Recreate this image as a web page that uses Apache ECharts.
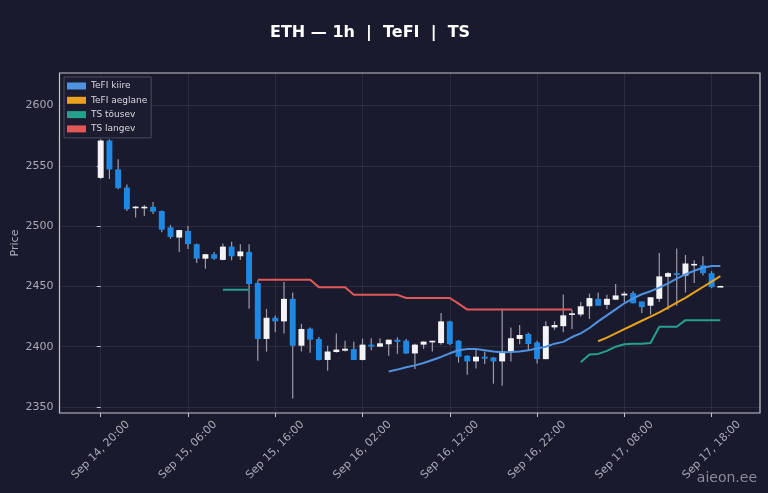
<!DOCTYPE html>
<html><head><meta charset="utf-8">
<script src="https://cdn.jsdelivr.net/npm/echarts@6/dist/echarts.min.js"></script>
<style>html,body{margin:0;padding:0;background:#1a1a2e;}#c{width:768px;height:493px;}</style>
</head><body><div id="c"></div>
<script>
// x = hours since Sep 14, 20:00
const xTickHours = [0,10,20,30,40,50,60,70];
const xTickLabels = ['Sep 14, 20:00','Sep 15, 06:00','Sep 15, 16:00','Sep 16, 02:00','Sep 16, 12:00','Sep 16, 22:00','Sep 17, 08:00','Sep 17, 18:00'];
const yTicks = [2350,2400,2450,2500,2550,2600];

const opens = [2540,2571,2547,2532,2515,2515,2516,2512.5,2499,2490.5,2496,2485,2473,2476.7,2472,2483,2475,2478.6,2452.8,2406.4,2424,2421,2439.7,2400.8,2415,2406.4,2389,2395.6,2396.7,2398,2389,2401.7,2400,2402,2405.8,2405,2394.4,2401.7,2403.9,2403,2421,2405,2392.5,2387.8,2391.7,2391,2387.8,2396,2406.4,2410.6,2403.6,2389.7,2416,2417,2426.5,2426.7,2433.5,2439.7,2434.7,2439,2442.5,2444.4,2437.5,2434,2439.7,2458,2461,2459,2467.5,2467.5,2461,2449.4];
const closes = [2571,2547,2531.5,2514,2516,2515.8,2512,2497,2491,2496.7,2485,2473,2476.7,2473,2483,2475,2479,2452,2406.4,2424,2421,2439.7,2400.8,2414.7,2405.8,2389,2396,2397.6,2398.3,2389,2401.7,2400,2402.8,2405.8,2404,2394.4,2401.7,2404.2,2404.6,2421,2402.2,2391.7,2387.8,2391.7,2390,2387.8,2396,2407,2409.7,2402.2,2389.7,2417,2418,2426,2427.5,2433.5,2440.3,2434,2439.7,2442.5,2444,2436,2432.8,2441,2458.3,2461,2459.4,2469,2468.5,2461,2449.4,2450];
const lows = [2539,2539,2530.5,2512.5,2507.2,2508.3,2510,2495,2489.5,2478.6,2481,2469.4,2464.7,2472.2,2471.7,2471.7,2472,2431.4,2388.3,2396,2412,2411,2357,2396,2395,2388.5,2380,2395,2396,2389,2388.5,2397,2400,2392.5,2394,2394,2381.4,2398,2396,2401.7,2401.5,2386.7,2376.7,2382,2385.6,2369.4,2367.5,2387.8,2402,2397,2386,2389.5,2414,2412,2414.7,2425,2423,2434,2431,2439,2437,2436,2428,2426.7,2437,2430.6,2434,2445,2452.8,2459,2448.5,2449.4];
const highs = [2572,2572,2555.5,2534.5,2516.7,2517.5,2520,2513,2501,2497,2500,2485.5,2477,2478.6,2485.6,2487,2485,2485,2455,2431.4,2425.8,2453.6,2445,2419,2416,2408,2400.8,2411,2405,2404,2406.7,2407,2407,2406,2407.8,2406.4,2402.5,2404.5,2405,2428,2421.5,2405.5,2393,2398,2396,2391.5,2431.4,2416,2418,2411.5,2405,2421,2421,2443.3,2430.5,2437,2444,2445,2443,2452,2445.8,2446,2437.5,2441,2477.8,2462,2481.4,2476,2471.7,2475,2462.5,2450.5];

const fastStart = 33;
const fastVals = [2379.5,2381,2383,2384.5,2386.5,2389,2391.5,2394.5,2397,2398,2398,2397,2396,2395.3,2395.5,2396,2397,2398.5,2400,2402.5,2404,2408,2411,2415.5,2421,2426,2431,2436,2440,2443.5,2446,2449,2452.5,2456.5,2460,2463,2465.5,2467,2467];
const slowStart = 57;
const slowVals = [2404.5,2407.5,2411,2414.5,2418,2421.5,2425,2428.5,2432.5,2436.5,2440.5,2445,2449.5,2454,2458.5];
const upAStart = 14;
const upAVals = [2447.2,2447.2,2447.2,2447.2];
const upBStart = 55;
const upBVals = [2387,2393.5,2394,2396.5,2400,2402,2402.5,2402.5,2403,2416.5,2416.5,2416.5,2422,2422,2422,2422,2422];
const downStart = 18;
const downVals = [2455.6,2455.6,2455.6,2455.6,2455.6,2455.6,2455.6,2449.4,2449.4,2449.4,2449.4,2443,2443,2443,2443,2443,2443,2440.4,2440.4,2440.4,2440.4,2440.4,2440.4,2435.7,2430.8,2430.8,2430.8,2430.8,2430.8,2430.8,2430.8,2430.8,2430.8,2430.8,2430.8,2430.8,2430.8];

const N = opens.length;
function seg(parts) {
  const arr = new Array(N).fill(null);
  parts.forEach(([s, vals]) => vals.forEach((v, k) => { arr[s + k] = v; }));
  return arr.map((v, i) => [i, v]);
}
const candleData = opens.map((o, i) => [i, o, closes[i], lows[i], highs[i]]);

const TXT = '#a9a9b4';
const chart = echarts.init(document.getElementById('c'), null, {renderer: 'canvas'});
const lineSeries = (name, color, data) => ({
  name, type: 'line', data, showSymbol: false, connectNulls: false, z: 5,
  lineStyle: {color, width: 2}, itemStyle: {color}, emphasis: {disabled: true}
});
chart.setOption({
  backgroundColor: '#1a1a2e',
  animation: false,
  textStyle: {fontFamily: 'DejaVu Sans'},
  title: {
    text: 'ETH — 1h  |  TeFI  |  TS', left: 270, top: 25, padding: 0,
    textStyle: {color: '#ffffff', fontSize: 16, fontWeight: 'bold', fontFamily: 'DejaVu Sans'}
  },
  graphic: [{
    type: 'text', right: 11, top: 471,
    style: {text: 'aieon.ee', fill: '#8a8a98', font: '14px "DejaVu Sans"'}
  }],
  legend: {
    orient: 'vertical', left: 64, top: 77, padding: [3, 4, 3, 3],
    itemWidth: 19, itemHeight: 7, itemGap: 2.3, icon: 'rect',
    backgroundColor: '#1c1c30', borderColor: '#4a4a5c', borderWidth: 1,
    textStyle: {color: '#d8d8e0', fontSize: 9, lineHeight: 12, fontFamily: 'DejaVu Sans'},
    data: ['TeFI kiire', 'TeFI aeglane', 'TS tõusev', 'TS langev']
  },
  grid: {left: 59.5, right: 8, top: 73, bottom: 80, show: true, borderColor: '#c4c4cc', borderWidth: 1.2, outerBoundsMode: 'none'},
  xAxis: {
    type: 'value', min: -4.72, max: 75.54,
    axisLine: {show: false},
    axisTick: {show: true, customValues: xTickHours, length: 4, lineStyle: {color: '#c4c4cc'}},
    axisLabel: {
      customValues: xTickHours, rotate: 45, align: 'center', verticalAlign: 'middle', margin: 37,
      color: TXT, fontSize: 11, fontFamily: 'DejaVu Sans',
      formatter: v => xTickLabels[xTickHours.indexOf(v)]
    },
    splitLine: {show: true, lineStyle: {color: 'rgba(255,255,255,0.07)', width: 1}}
  },
  yAxis: {
    type: 'value', min: 2345, max: 2627,
    name: 'Price', nameLocation: 'middle', nameGap: 39, nameMoveOverlap: false,
    nameTextStyle: {color: TXT, fontSize: 11, fontFamily: 'DejaVu Sans'},
    axisLine: {show: false},
    axisTick: {show: true, customValues: yTicks, length: 4, lineStyle: {color: '#c4c4cc'}},
    axisLabel: {customValues: yTicks, color: TXT, fontSize: 11, margin: 6, fontFamily: 'DejaVu Sans', formatter: v => String(v)},
    splitLine: {show: true, lineStyle: {color: 'rgba(255,255,255,0.07)', width: 1}}
  },
  series: [
    {
      name: 'candles', type: 'custom', data: candleData, z: 3,
      encode: {x: 0, y: [1, 2, 3, 4]},
      renderItem: (params, api) => {
        const x = api.value(0), o = api.value(1), c = api.value(2), l = api.value(3), h = api.value(4);
        const pO = api.coord([x, o]), pC = api.coord([x, c]), pL = api.coord([x, l]), pH = api.coord([x, h]);
        const w = api.size([1, 0])[0] * 0.68;
        let top = Math.min(pO[1], pC[1]), bot = Math.max(pO[1], pC[1]);
        if (bot - top < 1.6) { const m = (top + bot) / 2; top = m - 0.8; bot = m + 0.8; }
        return {type: 'group', children: [
          {type: 'line', shape: {x1: pH[0], y1: pH[1], x2: pL[0], y2: pL[1]}, style: {stroke: '#9c9ca8', lineWidth: 1.2}},
          {type: 'rect', shape: {x: pO[0] - w / 2, y: top, width: w, height: bot - top}, style: {fill: c >= o ? '#f4f4f6' : '#1e88e5'}}
        ]};
      }
    },
    lineSeries('TeFI kiire', '#4f92e0', seg([[fastStart, fastVals]])),
    lineSeries('TeFI aeglane', '#e9a21c', seg([[slowStart, slowVals]])),
    lineSeries('TS tõusev', '#26a08e', seg([[upAStart, upAVals], [upBStart, upBVals]])),
    lineSeries('TS langev', '#e05858', seg([[downStart, downVals]]))
  ]
});
</script></body></html>
